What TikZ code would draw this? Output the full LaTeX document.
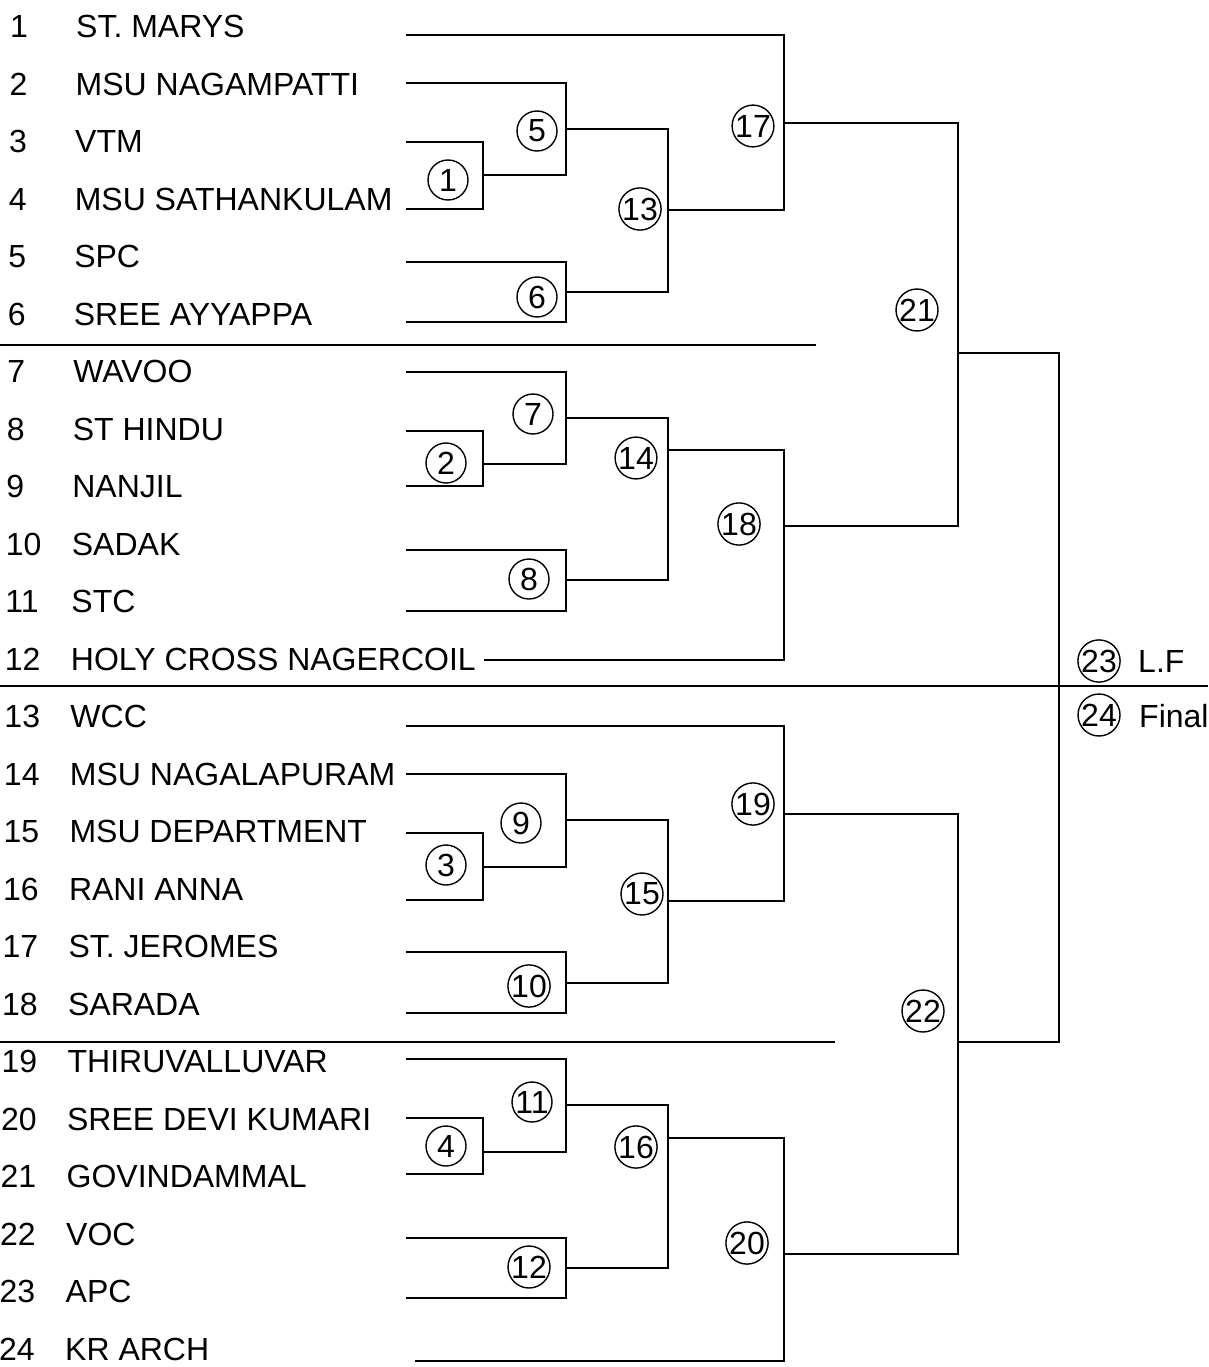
\documentclass[tikz,border=0pt]{standalone}
\usepackage{fontspec}
\setmainfont{Liberation Sans}
\begin{document}
\begin{tikzpicture}[x=1pt,y=-1pt,
  lbl/.style={anchor=base west, inner sep=0pt, font=\fontsize{32}{38}\selectfont},
  bline/.style={line width=2pt},
  divline/.style={line width=2pt},
  rnd/.style={circle, draw, line width=1.4pt, minimum size=40pt, inner sep=0pt, font=\fontsize{32}{38}\selectfont}]
\useasboundingbox (0,0) rectangle (1208,1367);

% team numbers and names
\foreach \i/\nm in {1/ST. MARYS,2/MSU NAGAMPATTI,3/VTM,4/MSU SATHANKULAM,5/SPC,6/SREE AYYAPPA,
  7/WAVOO,8/ST HINDU,9/NANJIL,10/SADAK,11/STC,12/HOLY CROSS NAGERCOIL,
  13/WCC,14/MSU NAGALAPURAM,15/MSU DEPARTMENT,16/RANI ANNA,17/ST. JEROMES,18/SARADA,
  19/THIRUVALLUVAR,20/SREE DEVI KUMARI,21/GOVINDAMMAL,22/VOC,23/APC,24/KR ARCH}{
  \pgfmathsetmacro\yb{26.5+(\i-1)*57.5+11.4}
  \pgfmathsetmacro\xn{10-(\i-1)*0.478}
  \pgfmathsetmacro\xm{76-(\i-1)*0.478}
  \node[lbl] (num\i) at (\xn,\yb) {\i};
  \node[lbl] (team\i) at (\xm,\yb) {\nm};
}

% start points of team lines
\coordinate (t1) at (406,35);
\coordinate (t2) at (406,83);
\coordinate (t3) at (406,142);
\coordinate (t4) at (406,209);
\coordinate (t5) at (406,262);
\coordinate (t6) at (406,322);
\coordinate (t7) at (406,372);
\coordinate (t8) at (406,431);
\coordinate (t9) at (406,486);
\coordinate (t10) at (406,550);
\coordinate (t11) at (406,611);
\coordinate (t12) at (484,660);
\coordinate (t13) at (406,726);
\coordinate (t14) at (406,774);
\coordinate (t15) at (406,833);
\coordinate (t16) at (406,900);
\coordinate (t17) at (406,952);
\coordinate (t18) at (406,1013);
\coordinate (t19) at (406,1059);
\coordinate (t20) at (406,1118);
\coordinate (t21) at (406,1174);
\coordinate (t22) at (406,1238);
\coordinate (t23) at (406,1298);
\coordinate (t24) at (415,1361);

% junctions (vertical x, output y)
\coordinate (j1) at (483,175);
\coordinate (j2) at (483,464);
\coordinate (j3) at (483,867);
\coordinate (j4) at (483,1152);
\coordinate (j5) at (566,129);
\coordinate (j6) at (566,292);
\coordinate (j7) at (566,418);
\coordinate (j8) at (566,580);
\coordinate (j9) at (566,820);
\coordinate (j10) at (566,983);
\coordinate (j11) at (566,1105);
\coordinate (j12) at (566,1268);
\coordinate (j13) at (668,210);
\coordinate (j14) at (668,450);
\coordinate (j15) at (668,901);
\coordinate (j16) at (668,1138);
\coordinate (j17) at (784,123);
\coordinate (j18) at (784,526);
\coordinate (j19) at (784,814);
\coordinate (j20) at (784,1254);
\coordinate (j21) at (958,353);
\coordinate (j22) at (958,1042);
\coordinate (fin) at (1059,686);

% brackets
\foreach \a/\j/\b in {t3/j1/t4, t8/j2/t9, t15/j3/t16, t20/j4/t21,
  t2/j5/j1, t5/j6/t6, t7/j7/j2, t10/j8/t11, t14/j9/j3, t17/j10/t18, t19/j11/j4, t22/j12/t23,
  j5/j13/j6, j7/j14/j8, j9/j15/j10, j11/j16/j12,
  t1/j17/j13, j14/j18/t12, t13/j19/j15, j16/j20/t24,
  j17/j21/j18, j19/j22/j20, j21/fin/j22}{
  \draw[bline] (\a) -| (\j) |- (\b);
}

% dividers
\coordinate (d1a) at (0,345);   \coordinate (d1b) at (816,345);
\coordinate (d2a) at (0,686);   \coordinate (d2b) at (1208,686);
\coordinate (d3a) at (0,1042);  \coordinate (d3b) at (835,1042);
\draw[divline] (d1a) -- (d1b);
\draw[divline] (d2a) -- (d2b);
\draw[divline] (d3a) -- (d3b);

% match numbers
\foreach \k/\x/\y in {1/448/180, 2/446/463, 3/446/865, 4/446/1146,
  5/537/131, 6/537/297, 7/533/414, 8/529/579, 9/521/823, 10/529/986, 11/532/1102, 12/529/1267,
  13/640/209, 14/636/458, 15/642/894, 16/636/1147,
  17/753/126, 18/739/524, 19/753/804, 20/747/1243,
  21/917/310, 22/923/1011, 23/1099/661, 24/1099/715}{
  \node[rnd] (c\k) at (\x,\y) {\k};
}
\node[lbl] (lf) at (1138,672.4) {L.F};
\node[lbl] (final) at (1139,727.4) {Final};
\end{tikzpicture}
\end{document}
